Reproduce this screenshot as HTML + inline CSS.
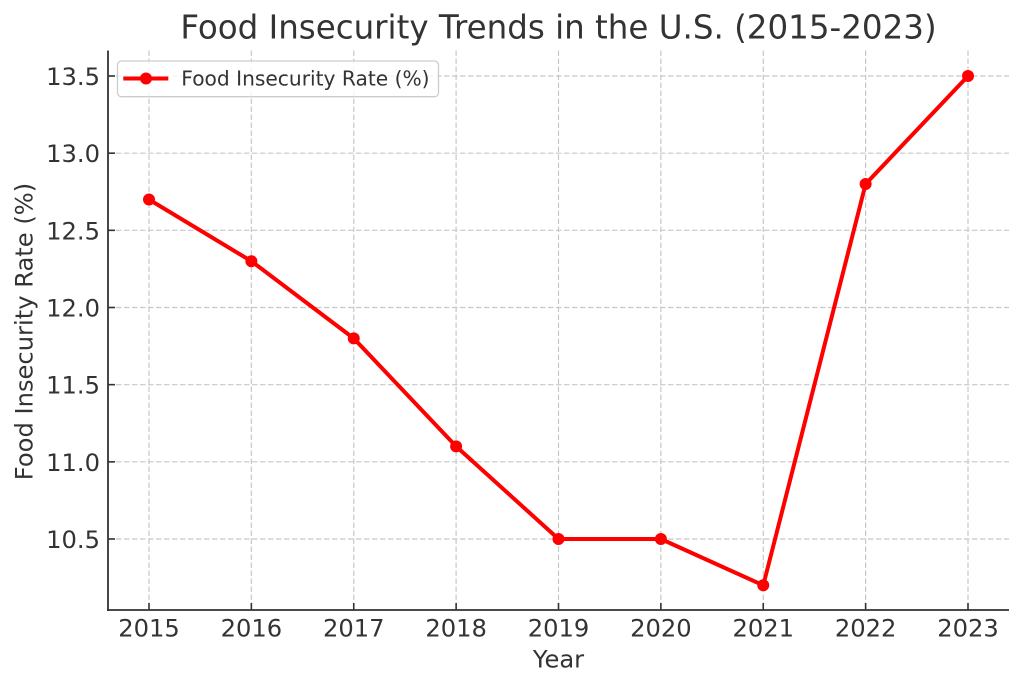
<!DOCTYPE html>
<html>
<head>
<meta charset="utf-8">
<style>
html,body{margin:0;padding:0;background:#fff;}
svg{display:block;}
text{font-family:"DejaVu Sans","Liberation Sans",sans-serif;fill:#333;}
</style>
</head>
<body>
<svg width="1023" height="688" viewBox="0 0 1023 688" xmlns="http://www.w3.org/2000/svg">
<rect x="0" y="0" width="1023" height="688" fill="#fff"/>
<!-- grid -->
<g stroke="#c8c8c8" stroke-width="1.2" stroke-dasharray="5.5 2.5" fill="none">
  <line x1="149" y1="50.5" x2="149" y2="610"/>
  <line x1="251.375" y1="50.5" x2="251.375" y2="610"/>
  <line x1="353.75" y1="50.5" x2="353.75" y2="610"/>
  <line x1="456.125" y1="50.5" x2="456.125" y2="610"/>
  <line x1="558.5" y1="50.5" x2="558.5" y2="610"/>
  <line x1="660.875" y1="50.5" x2="660.875" y2="610"/>
  <line x1="763.25" y1="50.5" x2="763.25" y2="610"/>
  <line x1="865.625" y1="50.5" x2="865.625" y2="610"/>
  <line x1="968" y1="50.5" x2="968" y2="610"/>
  <line x1="108" y1="539" x2="1009" y2="539"/>
  <line x1="108" y1="461.83" x2="1009" y2="461.83"/>
  <line x1="108" y1="384.67" x2="1009" y2="384.67"/>
  <line x1="108" y1="307.5" x2="1009" y2="307.5"/>
  <line x1="108" y1="230.33" x2="1009" y2="230.33"/>
  <line x1="108" y1="153.17" x2="1009" y2="153.17"/>
  <line x1="108" y1="76" x2="1009" y2="76"/>
</g>
<!-- spines -->
<g stroke="#333" stroke-width="1.8" fill="none">
  <line x1="108" y1="50.5" x2="108" y2="611"/>
  <line x1="107" y1="610" x2="1009" y2="610"/>
</g>
<!-- ticks (inward) -->
<g stroke="#333" stroke-width="1.6">
  <line x1="149" y1="610" x2="149" y2="603"/>
  <line x1="251.375" y1="610" x2="251.375" y2="603"/>
  <line x1="353.75" y1="610" x2="353.75" y2="603"/>
  <line x1="456.125" y1="610" x2="456.125" y2="603"/>
  <line x1="558.5" y1="610" x2="558.5" y2="603"/>
  <line x1="660.875" y1="610" x2="660.875" y2="603"/>
  <line x1="763.25" y1="610" x2="763.25" y2="603"/>
  <line x1="865.625" y1="610" x2="865.625" y2="603"/>
  <line x1="968" y1="610" x2="968" y2="603"/>
  <line x1="108" y1="539" x2="115" y2="539"/>
  <line x1="108" y1="461.83" x2="115" y2="461.83"/>
  <line x1="108" y1="384.67" x2="115" y2="384.67"/>
  <line x1="108" y1="307.5" x2="115" y2="307.5"/>
  <line x1="108" y1="230.33" x2="115" y2="230.33"/>
  <line x1="108" y1="153.17" x2="115" y2="153.17"/>
  <line x1="108" y1="76" x2="115" y2="76"/>
</g>
<!-- y tick labels -->
<g font-size="24.2" text-anchor="end">
  <text x="100" y="548">10.5</text>
  <text x="100" y="470.8">11.0</text>
  <text x="100" y="393.7">11.5</text>
  <text x="100" y="316.5">12.0</text>
  <text x="100" y="239.3">12.5</text>
  <text x="100" y="162.2">13.0</text>
  <text x="100" y="85">13.5</text>
</g>
<!-- x tick labels -->
<g font-size="24.2" text-anchor="middle">
  <text x="149" y="636.7">2015</text>
  <text x="251.375" y="636.7">2016</text>
  <text x="353.75" y="636.7">2017</text>
  <text x="456.125" y="636.7">2018</text>
  <text x="558.5" y="636.7">2019</text>
  <text x="660.875" y="636.7">2020</text>
  <text x="763.25" y="636.7">2021</text>
  <text x="865.625" y="636.7">2022</text>
  <text x="968" y="636.7">2023</text>
</g>
<!-- axis labels -->
<text x="558.5" y="667.3" font-size="24.2" text-anchor="middle">Year</text>
<text transform="translate(32.5,331.5) rotate(-90)" font-size="24.2" text-anchor="middle">Food Insecurity Rate (%)</text>
<!-- title -->
<text x="558.5" y="38.5" font-size="32.5" text-anchor="middle">Food Insecurity Trends in the U.S. (2015-2023)</text>
<!-- series -->
<polyline fill="none" stroke="#ff0000" stroke-width="4" stroke-linejoin="round" stroke-linecap="butt"
  points="149,199.5 251.375,261.2 353.75,338.4 456.125,446.4 558.5,539 660.875,539 763.25,585.3 865.625,184 968,76"/>
<g fill="#ff0000">
  <circle cx="149" cy="199.5" r="6"/>
  <circle cx="251.375" cy="261.2" r="6"/>
  <circle cx="353.75" cy="338.4" r="6"/>
  <circle cx="456.125" cy="446.4" r="6"/>
  <circle cx="558.5" cy="539" r="6"/>
  <circle cx="660.875" cy="539" r="6"/>
  <circle cx="763.25" cy="585.3" r="6"/>
  <circle cx="865.625" cy="184" r="6"/>
  <circle cx="968" cy="76" r="6"/>
</g>
<!-- legend -->
<rect x="117.5" y="61" width="321" height="35.7" rx="4" ry="4" fill="#ffffff" fill-opacity="0.8" stroke="#cccccc" stroke-width="1.3"/>
<line x1="123.3" y1="78.5" x2="168.3" y2="78.5" stroke="#ff0000" stroke-width="4"/>
<circle cx="146" cy="78.5" r="6" fill="#ff0000"/>
<text x="181.3" y="85.7" font-size="20.2">Food Insecurity Rate (%)</text>
</svg>
</body>
</html>
